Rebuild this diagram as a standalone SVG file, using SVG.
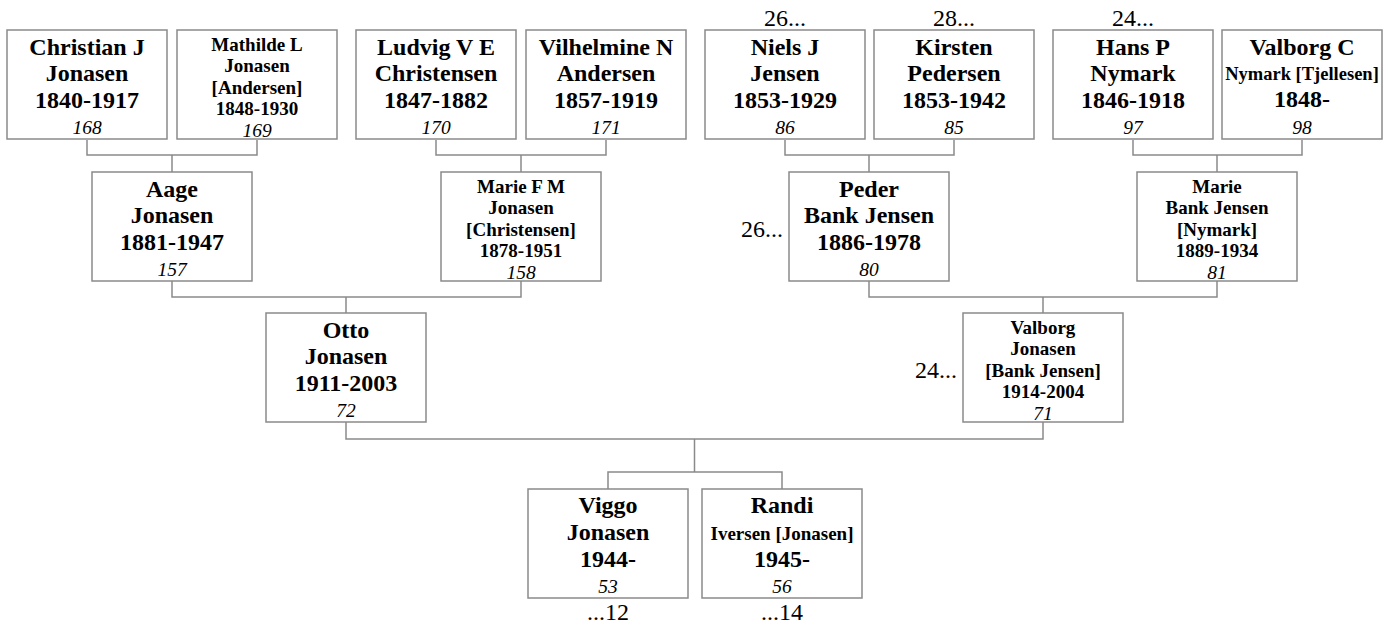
<svg xmlns="http://www.w3.org/2000/svg" width="1393" height="628" viewBox="0 0 1393 628">
<style>
rect.box{fill:#fff;stroke:#8a8a8a;stroke-width:1.5}
.conn path{fill:none;stroke:#8a8a8a;stroke-width:1.5}
text{font-family:"Liberation Serif","Times New Roman",serif;fill:#000;text-anchor:middle}
.b{font-weight:bold;font-size:24px}
.s{font-weight:bold;font-size:19px}
.n{font-style:italic;font-size:19.5px}
.l{font-size:24px}
.r{text-anchor:end}
</style>
<rect width="1393" height="628" fill="#fff"/>
<g id="connectors" class="conn">
<path d="M87 140V155H257V140M172 155V172"/>
<path d="M436 140V155H606V140M521 155V172"/>
<path d="M785 140V155H954V140M869 155V172"/>
<path d="M1133 140V155H1302V140M1217 155V172"/>
<path d="M172 281V297H521V281M346 297V313"/>
<path d="M869 281V297H1217V281M1043 297V313"/>
<path d="M346 422V439H1043V422M694.5 439V472M608 489V472H782V489"/>
</g>
<g id="n168"><rect class="box" x="7" y="30" width="160" height="109"/>
<text class="b" x="87" y="54.5">Christian J</text><text class="b" x="87" y="81">Jonasen</text><text class="b" x="87" y="107.5">1840-1917</text><text class="n" x="87" y="134">168</text></g>
<g id="n169"><rect class="box" x="177" y="30" width="160" height="109"/>
<text class="s" x="257" y="51">Mathilde L</text><text class="s" x="257" y="72.4">Jonasen</text><text class="s" x="257" y="93.8">[Andersen]</text><text class="s" x="257" y="115.2">1848-1930</text><text class="n" x="257" y="136.6">169</text></g>
<g id="n170"><rect class="box" x="356" y="30" width="160" height="109"/>
<text class="b" x="436" y="54.5">Ludvig V E</text><text class="b" x="436" y="81">Christensen</text><text class="b" x="436" y="107.5">1847-1882</text><text class="n" x="436" y="134">170</text></g>
<g id="n171"><rect class="box" x="526" y="30" width="160" height="109"/>
<text class="b" x="606" y="54.5">Vilhelmine N</text><text class="b" x="606" y="81">Andersen</text><text class="b" x="606" y="107.5">1857-1919</text><text class="n" x="606" y="134">171</text></g>
<g id="n86"><rect class="box" x="705" y="30" width="160" height="109"/>
<text class="l" x="785" y="26">26...</text>
<text class="b" x="785" y="54.5">Niels J</text><text class="b" x="785" y="81">Jensen</text><text class="b" x="785" y="107.5">1853-1929</text><text class="n" x="785" y="134">86</text></g>
<g id="n85"><rect class="box" x="874" y="30" width="160" height="109"/>
<text class="l" x="954" y="26">28...</text>
<text class="b" x="954" y="54.5">Kirsten</text><text class="b" x="954" y="81">Pedersen</text><text class="b" x="954" y="107.5">1853-1942</text><text class="n" x="954" y="134">85</text></g>
<g id="n97"><rect class="box" x="1053" y="30" width="160" height="109"/>
<text class="l" x="1133" y="26">24...</text>
<text class="b" x="1133" y="54.5">Hans P</text><text class="b" x="1133" y="81">Nymark</text><text class="b" x="1133" y="107.5">1846-1918</text><text class="n" x="1133" y="134">97</text></g>
<g id="n98"><rect class="box" x="1222" y="30" width="160" height="109"/>
<text class="b" x="1302" y="54.5">Valborg C</text><text class="s" x="1302" y="80" style="font-size:18.5px">Nymark [Tjellesen]</text><text class="b" x="1302" y="107">1848-</text><text class="n" x="1302" y="134">98</text></g>
<g id="n157"><rect class="box" x="92" y="172" width="160" height="109"/>
<text class="b" x="172" y="196.5">Aage</text><text class="b" x="172" y="223">Jonasen</text><text class="b" x="172" y="249.5">1881-1947</text><text class="n" x="172" y="276">157</text></g>
<g id="n158"><rect class="box" x="441" y="172" width="160" height="109"/>
<text class="s" x="521" y="193">Marie F M</text><text class="s" x="521" y="214.4">Jonasen</text><text class="s" x="521" y="235.8">[Christensen]</text><text class="s" x="521" y="257.2">1878-1951</text><text class="n" x="521" y="278.6">158</text></g>
<g id="n80"><rect class="box" x="789" y="172" width="160" height="109"/>
<text class="l r" x="783" y="236.5">26...</text>
<text class="b" x="869" y="196.5">Peder</text><text class="b" x="869" y="223">Bank Jensen</text><text class="b" x="869" y="249.5">1886-1978</text><text class="n" x="869" y="276">80</text></g>
<g id="n81"><rect class="box" x="1137" y="172" width="160" height="109"/>
<text class="s" x="1217" y="193">Marie</text><text class="s" x="1217" y="214.4">Bank Jensen</text><text class="s" x="1217" y="235.8">[Nymark]</text><text class="s" x="1217" y="257.2">1889-1934</text><text class="n" x="1217" y="278.6">81</text></g>
<g id="n72"><rect class="box" x="266" y="313" width="160" height="109"/>
<text class="b" x="346" y="337.5">Otto</text><text class="b" x="346" y="364">Jonasen</text><text class="b" x="346" y="390.5">1911-2003</text><text class="n" x="346" y="417">72</text></g>
<g id="n71"><rect class="box" x="963" y="313" width="160" height="109"/>
<text class="l r" x="957" y="377.5">24...</text>
<text class="s" x="1043" y="334">Valborg</text><text class="s" x="1043" y="355.4">Jonasen</text><text class="s" x="1043" y="376.8">[Bank Jensen]</text><text class="s" x="1043" y="398.2">1914-2004</text><text class="n" x="1043" y="419.6">71</text></g>
<g id="n53"><rect class="box" x="528" y="489" width="160" height="109"/>
<text class="b" x="608" y="513">Viggo</text><text class="b" x="608" y="540">Jonasen</text><text class="b" x="608" y="566.5">1944-</text><text class="n" x="608" y="593">53</text>
<text class="l" x="608" y="620">...12</text></g>
<g id="n56"><rect class="box" x="702" y="489" width="160" height="109"/>
<text class="b" x="782" y="513">Randi</text><text class="s" x="782" y="540">Iversen [Jonasen]</text><text class="b" x="782" y="566.5">1945-</text><text class="n" x="782" y="593">56</text>
<text class="l" x="782" y="620">...14</text></g>
</svg>
